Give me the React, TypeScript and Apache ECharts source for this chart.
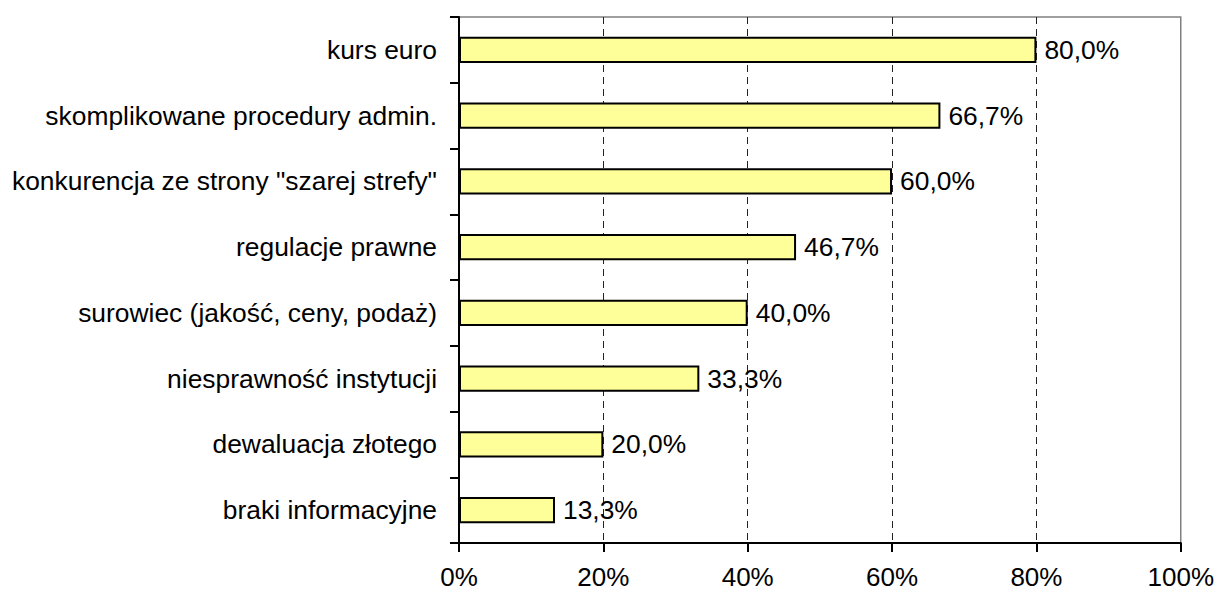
import React, { useEffect, useRef } from "react";
import * as echarts from "echarts";

const categories = [
  "kurs euro",
  "skomplikowane procedury admin.",
  "konkurencja ze strony \"szarej strefy\"",
  "regulacje prawne",
  "surowiec (jakość, ceny, podaż)",
  "niesprawność instytucji",
  "dewaluacja złotego",
  "braki informacyjne",
];
const values = [80.0, 66.7, 60.0, 46.7, 40.0, 33.3, 20.0, 13.3];
const xTicks = [0, 20, 40, 60, 80, 100];

const FONT = "'Liberation Sans', Arial, sans-serif";

export default function App() {
  const ref = useRef<HTMLDivElement>(null);
  useEffect(() => {
    const chart = echarts.init(ref.current!, null, { renderer: "svg" });
    chart.setOption({
      animation: false,
      grid: {
        left: 459,
        top: 17,
        right: 34,
        bottom: 49,
        show: true,
        borderColor: "#808080",
        borderWidth: 1.5,
        backgroundColor: "transparent",
      },
      xAxis: {
        type: "value",
        min: xTicks[0],
        max: xTicks[xTicks.length - 1],
        interval: 20,
        axisLine: { show: true, lineStyle: { color: "#000", width: 2 } },
        axisTick: { show: true, length: 9, lineStyle: { color: "#000", width: 2 } },
        axisLabel: {
          formatter: "{value}%",
          fontFamily: FONT,
          fontSize: 26,
          lineHeight: 20,
          color: "#000",
          margin: 24,
        },
        splitLine: {
          show: true,
          showMinLine: false,
          showMaxLine: false,
          lineStyle: { color: "#222", type: [7, 5], width: 1 },
        },
      },
      yAxis: {
        type: "category",
        data: categories,
        inverse: true,
        axisLine: { show: true, lineStyle: { color: "#000", width: 2 } },
        axisTick: { show: true, length: 9, lineStyle: { color: "#000", width: 2 } },
        axisLabel: {
          fontFamily: FONT,
          fontSize: 26.4,
          color: "#000",
          margin: 22,
        },
        splitLine: { show: false },
      },
      series: [
        {
          type: "bar",
          data: values,
          barCategoryGap: "60%",
          itemStyle: { color: "#FFFF99", borderColor: "#000", borderWidth: 2 },
          label: {
            show: true,
            position: "right",
            distance: 8,
            fontFamily: FONT,
            fontSize: 26.4,
            color: "#000",
            formatter: (p: any) => p.value.toFixed(1).replace(".", ",") + "%",
          },
        },
      ],
    });
    return () => chart.dispose();
  }, []);
  return <div ref={ref} style={{ width: 1217, height: 592, position: "absolute", left: 0, top: 0 }} />;
}
